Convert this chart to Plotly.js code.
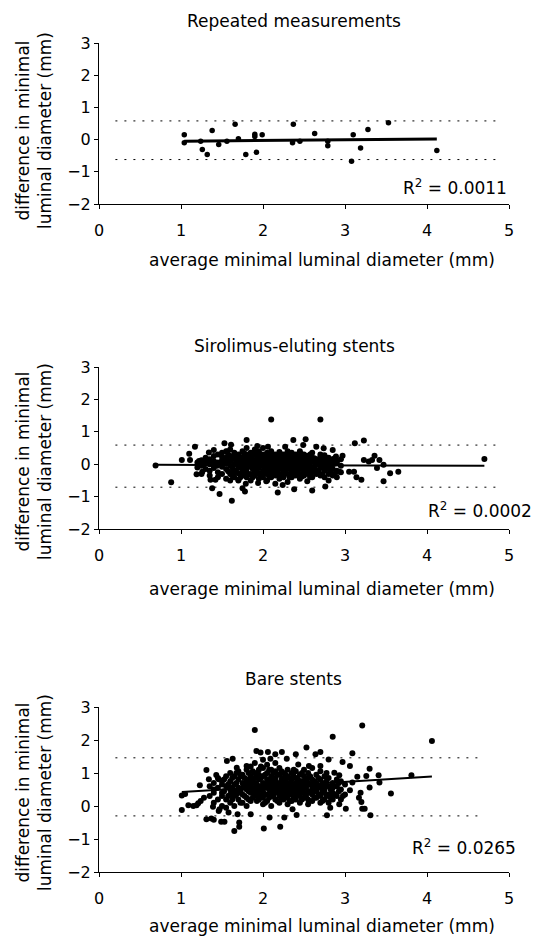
<!DOCTYPE html>
<html><head><meta charset="utf-8">
<script src="https://cdn.plot.ly/plotly-3.0.1.min.js"></script>
<style>html,body{margin:0;padding:0;background:#fff}#chart{width:533px;height:938px}</style>
</head><body><div id="chart"></div><script>
// ---------- Data ----------
const panelTitles = ["Repeated measurements", "Sirolimus-eluting stents", "Bare stents"];
const xTitle = "average minimal luminal diameter (mm)";
const yTitle = "difference in minimal<br>luminal diameter (mm)";
const r2Labels = ["R<sup>2</sup> = 0.0011", "R<sup>2</sup> = 0.0002", "R<sup>2</sup> = 0.0265"];
const xTickVals = [0, 1, 2, 3, 4, 5];
const yTickVals = [-2, -1, 0, 1, 2, 3];

// Panel 1: repeated measurements
const repX = [1.04,1.04,1.24,1.26,1.32,1.38,1.46,1.56,1.66,1.70,1.79,1.90,1.90,1.92,1.99,2.37,2.36,2.45,2.63,2.79,2.79,3.08,3.10,3.19,3.28,3.53,4.12];
const repY = [0.15,-0.10,-0.05,-0.31,-0.46,0.28,-0.15,-0.05,0.48,0.03,-0.46,0.17,0.10,-0.39,0.15,0.48,-0.10,-0.05,0.19,-0.05,-0.19,-0.67,0.15,-0.26,0.31,0.52,-0.34];

// Panel 2: sirolimus-eluting stents (scattered points + dense core by column)
const sirEdgeX = [0.69,0.88,1.01,1.10,1.11,1.17,1.19,1.22,1.26,1.28,1.34,1.36,1.38,1.40,1.42,1.47,1.44,1.50,1.53,1.56,1.61,1.62,1.64,1.67,1.70,1.75,1.78,1.80,1.79,1.82,1.86,1.93,1.94,2.04,2.06,2.10,2.18,2.24,2.27,2.37,2.38,2.49,2.52,2.54,2.60,2.65,2.70,2.74,2.76,2.85,2.89,2.93,2.97,3.05,3.11,3.12,3.14,3.20,3.23,3.23,3.29,3.33,3.36,3.39,3.42,3.47,3.47,3.55,3.65,4.70];
const sirEdgeY = [-0.04,-0.56,0.13,0.32,0.13,0.54,-0.31,0.10,-0.23,0.00,0.36,-0.48,-0.74,0.44,-0.48,-0.92,-0.05,0.24,0.65,0.39,0.60,-1.13,-0.17,0.29,-0.48,-0.74,-0.84,0.75,-0.60,0.24,-0.02,0.56,-0.58,-0.53,0.54,1.38,-0.87,-0.64,0.54,0.75,-0.77,0.59,0.77,-0.53,-0.81,0.54,1.38,0.49,-0.69,0.44,0.24,-0.23,0.26,-0.23,-0.23,0.65,-0.40,-0.48,0.73,0.13,0.08,0.13,0.26,-0.12,0.13,-0.02,-0.53,-0.28,-0.23,0.16];
const sirCoreCols = [1.20,1.25,1.30,1.35,1.40,1.45,1.50,1.55,1.60,1.65,1.70,1.75,1.80,1.85,1.90,1.95,2.00,2.05,2.10,2.15,2.20,2.25,2.30,2.35,2.40,2.45,2.50,2.55,2.60,2.65,2.70,2.75,2.80,2.85,2.90,2.95];
const sirCoreVals = [
  [0.05,-0.1],[0.12,-0.05,-0.3],[0.08,-0.15,0.2],[0.0,-0.2,0.15,-0.35],[0.1,-0.12,0.25,-0.05],
  [0.05,-0.25,0.3,-0.4],[0.12,-0.08,0.35,-0.3,0.0],[0.2,-0.15,0.05,-0.45,0.4],[0.1,-0.05,0.25,-0.3,0.45,-0.5],
  [0.0,0.18,-0.2,0.35,-0.4],[0.08,-0.1,0.3,-0.28,0.15,-0.5],[0.22,-0.05,0.05,-0.35,0.4,-0.2],
  [0.1,-0.15,0.3,-0.4,0.5,0.0,-0.25],[0.18,-0.08,0.35,-0.3,0.05,-0.5,0.25],[0.0,0.12,-0.2,0.3,-0.35,0.45,-0.1],
  [0.08,-0.12,0.22,-0.28,0.4,-0.45,0.0],[0.15,-0.05,0.3,-0.2,0.05,-0.4,0.5,-0.3],[0.0,0.2,-0.15,0.35,-0.3,0.1,-0.5],
  [0.1,-0.08,0.25,-0.25,0.4,-0.4,0.0],[0.05,-0.18,0.3,-0.35,0.15,-0.05,-0.6],[0.12,-0.1,0.22,-0.3,0.0,-0.45,0.38],
  [0.02,-0.2,0.18,-0.4,0.3,-0.08],[0.1,-0.15,0.25,-0.3,0.0,-0.55,0.4],[0.05,-0.1,0.2,-0.25,0.35,-0.4],
  [0.0,0.15,-0.2,0.3,-0.35,0.08,-0.05],[0.1,-0.12,0.25,-0.3,0.0,-0.45,0.4],[0.05,-0.2,0.18,-0.1,0.3,-0.35],
  [0.0,0.12,-0.15,0.25,-0.3,-0.05],[0.08,-0.1,0.2,-0.25,0.35,-0.4],[0.0,0.15,-0.18,-0.3,0.1],
  [0.05,-0.12,0.22,-0.35,0.3,-0.05],[0.0,-0.2,0.12,-0.4,0.28],[0.08,-0.1,-0.3,0.2,-0.5],
  [0.0,-0.15,0.15,-0.35],[0.05,-0.2,0.1,-0.4],[-0.05,0.15,-0.25]
];
const sirMidCols = [1.575,1.625,1.675,1.725,1.775,1.825,1.875,1.925,1.975,2.025,2.075,2.125,2.175,2.225,2.275,2.325,2.375,2.425,2.475,2.525,2.575,2.625,2.675,2.725,2.775,2.825,2.875];
const sirMidVals = [
  [0.08,-0.22,0.3],[-0.1,0.15,-0.35],[0.05,-0.25,0.25],[-0.05,0.12,-0.4],[0.15,-0.18,0.02,0.32],
  [-0.02,0.2,-0.32,0.1],[0.05,-0.15,0.28,-0.4],[-0.08,0.18,-0.25,0.35],[0.12,-0.02,-0.35,0.25],
  [-0.1,0.08,0.22,-0.25],[0.05,-0.2,0.3,-0.38],[-0.12,0.18,-0.3,0.02],[0.08,-0.08,0.28,-0.2],
  [-0.15,0.05,0.3,-0.35],[0.12,-0.05,-0.28,0.25],[-0.08,0.2,-0.4,0.05],[0.1,-0.18,0.28,-0.3],
  [-0.05,0.22,-0.25,0.05],[0.15,-0.15,-0.38,0.3],[-0.02,0.1,-0.28,0.25],[0.05,-0.2,0.3,-0.4],
  [-0.08,0.18,-0.2],[0.1,-0.25,0.02],[-0.1,0.15,-0.3],[0.05,-0.15,0.2],[-0.05,0.1,-0.25],[0.02,-0.3,0.18]
];

// Panel 3: bare stents
const bareEdgeX = [1.01,1.01,1.09,1.15,1.21,1.23,1.24,1.28,1.31,1.31,1.34,1.37,1.39,1.40,1.43,1.46,1.47,1.49,1.53,1.50,1.56,1.58,1.60,1.63,1.65,1.68,1.69,1.71,1.71,1.80,1.85,1.90,1.92,1.97,2.01,2.06,2.08,2.09,2.15,2.21,2.23,2.26,2.29,2.36,2.40,2.41,2.43,2.53,2.56,2.64,2.70,2.70,2.78,2.80,2.82,2.85,2.87,2.93,2.93,2.97,3.01,3.06,3.09,3.06,3.09,3.15,3.17,3.19,3.20,3.21,3.21,3.24,3.26,3.30,3.30,3.31,3.41,3.42,3.56,3.81,4.06,1.05,1.19,1.46,1.40];
const bareEdgeY = [0.32,-0.12,0.02,0.00,0.08,0.63,0.15,0.25,1.09,-0.40,0.81,-0.38,-0.02,0.40,0.94,-0.15,-0.10,-0.48,-0.48,0.76,1.36,-0.20,0.35,1.43,-0.76,1.16,-0.25,-0.50,-0.63,1.21,-0.25,2.30,1.67,1.62,-0.68,1.64,-0.35,1.43,1.57,-0.63,1.64,-0.35,1.43,-0.10,1.57,-0.27,1.26,1.77,1.21,1.57,1.64,1.21,-0.28,1.41,-0.05,2.10,1.01,0.05,0.93,1.33,-0.08,1.21,1.60,0.48,0.71,0.89,0.25,0.40,0.12,2.44,-0.08,-0.08,0.91,1.13,0.56,-0.28,0.93,0.71,0.38,0.93,1.97,0.36,0.02,0.81,-0.42];
const bareCoreCols = [1.35,1.40,1.45,1.50,1.55,1.60,1.65,1.70,1.75,1.80,1.85,1.90,1.95,2.00,2.05,2.10,2.15,2.20,2.25,2.30,2.35,2.40,2.45,2.50,2.55,2.60,2.65,2.70,2.75,2.80,2.85,2.90,2.95,3.00];
const bareCoreVals = [
  [0.3,0.6],[0.1,0.5,0.7],[0.2,0.55,0.85],[0.0,0.4,0.65,0.3],[0.6,0.2,0.9,-0.05],[0.5,0.75,0.1,1.0],
  [0.3,0.65,0.9,0.0,0.45],[0.55,0.8,0.2,1.05,0.4],[0.7,0.35,0.95,0.1,0.55],[0.5,0.8,0.25,1.1,0.65,0.0],
  [0.6,0.9,0.4,0.15,1.2,0.75],[0.7,0.45,1.0,0.3,0.85,0.55,1.3],[0.6,0.8,0.35,1.1,0.2,0.5,0.95],
  [0.7,0.45,0.9,0.25,1.15,0.6,0.05,1.4],[0.55,0.8,0.35,1.0,0.65,0.15,1.25],[0.7,0.45,0.9,0.3,1.1,0.55,0.0],
  [0.6,0.85,0.4,1.05,0.2,0.75,1.3],[0.5,0.7,0.3,0.95,0.1,0.6,1.15],[0.65,0.4,0.85,0.2,1.0,0.55],
  [0.7,0.45,0.9,0.25,0.6,1.1,0.05],[0.55,0.8,0.35,1.0,0.15,0.65],[0.6,0.85,0.4,0.2,1.05,0.7],
  [0.5,0.75,0.3,0.95,0.1,0.6],[0.65,0.4,0.9,0.25,1.1,0.55],[0.7,0.45,0.85,0.2,1.0,0.05],
  [0.6,0.35,0.8,1.15,0.5,0.15],[0.7,0.45,0.95,0.25,0.6],[0.55,0.8,0.3,1.05,0.1],[0.65,0.4,0.9,0.2,0.5],
  [0.6,0.35,0.85,0.1],[0.7,0.4,0.2,0.55],[0.6,0.3,0.8],[0.5,0.2,0.75],[0.65,0.35]
];
const bareMidCols = [1.525,1.575,1.625,1.675,1.725,1.775,1.825,1.875,1.925,1.975,2.025,2.075,2.125,2.175,2.225,2.275,2.325,2.375,2.425,2.475,2.525,2.575,2.625,2.675,2.725,2.775,2.825,2.875,2.925,2.975];
const bareMidVals = [
  [0.45,0.8],[0.3,0.65],[0.55,0.85,0.2],[0.7,0.35,1.0],[0.45,0.9,0.1],[0.6,0.3,0.85],
  [0.75,0.45,1.0,0.2],[0.5,0.8,0.25,1.05],[0.65,0.4,0.95,0.15],[0.55,0.85,0.3,1.2],
  [0.6,0.35,0.95,0.1],[0.75,0.5,1.1,0.25],[0.55,0.8,0.3,1.0],[0.65,0.45,0.95,0.15],
  [0.8,0.4,1.05,0.25],[0.55,0.75,0.3,0.95],[0.65,0.4,0.85,0.15],[0.5,0.9,0.25,1.1],
  [0.65,0.35,0.8,0.5],[0.75,0.45,1.0,0.2],[0.55,0.8,0.3],[0.65,0.4,0.9],[0.5,0.75,0.25],
  [0.6,0.85,0.35],[0.45,0.7,0.15],[0.75,0.3,1.0],[0.5,0.25],[0.6,0.35],[0.45,0.7],[0.3]
];

// Regression fits (slope, intercept) and limits of agreement
const fitSlope = [0.0228, -0.0075, 0.156];
const fitIntercept = [-0.0735, -0.015, 0.264];
const loaUpper = [0.58, 0.59, 1.46];
const loaLower = [-0.62, -0.71, -0.30];
const loaSpanStart = [0.2, 0.2, 0.2];
const loaSpanEnd = [4.9, 4.9, 4.65];

// ---------- Build ----------
function flatten(cols, vals) {
  const x = [], y = [];
  cols.forEach((c, i) => vals[i].forEach(v => { x.push(c); y.push(v); }));
  return {x, y};
}
const sirCore = flatten(sirCoreCols, sirCoreVals), sirMid = flatten(sirMidCols, sirMidVals);
const bareCore = flatten(bareCoreCols, bareCoreVals), bareMid = flatten(bareMidCols, bareMidVals);
const panelX = [repX, sirEdgeX.concat(sirCore.x, sirMid.x), bareEdgeX.concat(bareCore.x, bareMid.x)];
const panelY = [repY, sirEdgeY.concat(sirCore.y, sirMid.y), bareEdgeY.concat(bareCore.y, bareMid.y)];

const W = 533, H = 938;
const px = v => v / W, py = v => 1 - v / H;
const xDom = [px(99), px(509)];
const yDoms = [[py(204), py(43)], [py(529), py(367)], [py(872), py(707)]];
const fitWidth = [3, 2, 2];
const markerSize = [5.5, 6, 6];
const FONT = "DejaVu Sans, Verdana, sans-serif";

const traces = [];
const layout = {
  width: W, height: H, margin: {l: 0, r: 0, t: 0, b: 0},
  paper_bgcolor: "#fff", plot_bgcolor: "#fff", showlegend: false,
  font: {family: FONT, color: "#000", size: 16},
  annotations: []
};

for (let i = 0; i < 3; i++) {
  const sfx = i === 0 ? "" : String(i + 1);
  const xa = "x" + sfx, ya = "y" + sfx;
  const xs = panelX[i], ys = panelY[i];
  const xmin = Math.min(...xs), xmax = Math.max(...xs);
  traces.push({type: "scatter", mode: "markers", x: xs, y: ys, xaxis: xa, yaxis: ya,
    marker: {color: "#000", size: markerSize[i]}, hoverinfo: "skip"});
  traces.push({type: "scatter", mode: "lines", xaxis: xa, yaxis: ya,
    x: [loaSpanStart[i], loaSpanEnd[i]], y: [loaUpper[i], loaUpper[i]],
    line: {color: "#000", width: 1, dash: "2px,7px"}, hoverinfo: "skip"});
  traces.push({type: "scatter", mode: "lines", xaxis: xa, yaxis: ya,
    x: [loaSpanStart[i], loaSpanEnd[i]], y: [loaLower[i], loaLower[i]],
    line: {color: "#000", width: 1, dash: "2px,7px"}, hoverinfo: "skip"});
  traces.push({type: "scatter", mode: "lines", xaxis: xa, yaxis: ya,
    x: [xmin, xmax], y: [fitIntercept[i] + fitSlope[i] * xmin, fitIntercept[i] + fitSlope[i] * xmax],
    line: {color: "#000", width: fitWidth[i]}, hoverinfo: "skip"});

  layout["xaxis" + sfx] = {domain: xDom, anchor: ya, range: [0, 5], tickvals: xTickVals,
    showgrid: false, zeroline: false, showline: true, linecolor: "#000", linewidth: 1,
    ticks: "outside", ticklen: 4, tickcolor: "#000", ticklabelstandoff: 8,
    tickfont: {size: 16, family: FONT, color: "#000"}, fixedrange: true};
  layout["yaxis" + sfx] = {domain: yDoms[i], anchor: xa, range: [-2, 3], tickvals: yTickVals,
    showgrid: false, zeroline: false, showline: true, linecolor: "#000", linewidth: 1,
    ticks: "outside", ticklen: 4, tickcolor: "#000",
    tickfont: {size: 16, family: FONT, color: "#000"}, fixedrange: true};
}

const titleY = [21, 346, 679], titleX = [294, 294.5, 293];
const xTitleY = [260, 589, 926];
const yTitleY = [131, 462, 793];
const r2Pos = [{x: 509, y: 187, a: "right"}, {x: 426, y: 510, a: "left"}, {x: 518, y: 847, a: "right"}];
for (let i = 0; i < 3; i++) {
  layout.annotations.push({xref: "paper", yref: "paper", x: px(titleX[i]), y: py(titleY[i]),
    xanchor: "center", yanchor: "middle", text: panelTitles[i], showarrow: false, font: {size: 17}});
  layout.annotations.push({xref: "paper", yref: "paper", x: px(321.5), y: py(xTitleY[i]),
    xanchor: "center", yanchor: "middle", text: xTitle, showarrow: false, font: {size: 17}});
  layout.annotations.push({xref: "paper", yref: "paper", x: px(34), y: py(yTitleY[i]),
    xanchor: "center", yanchor: "middle", text: yTitle, textangle: -90, showarrow: false, font: {size: 17}});
  layout.annotations.push({xref: "paper", yref: "paper", x: px(r2Pos[i].x), y: py(r2Pos[i].y),
    xanchor: r2Pos[i].a, yanchor: "middle", text: r2Labels[i], showarrow: false, font: {size: 17}});
}

Plotly.newPlot("chart", traces, layout, {staticPlot: true, displayModeBar: false});
</script></body></html>
